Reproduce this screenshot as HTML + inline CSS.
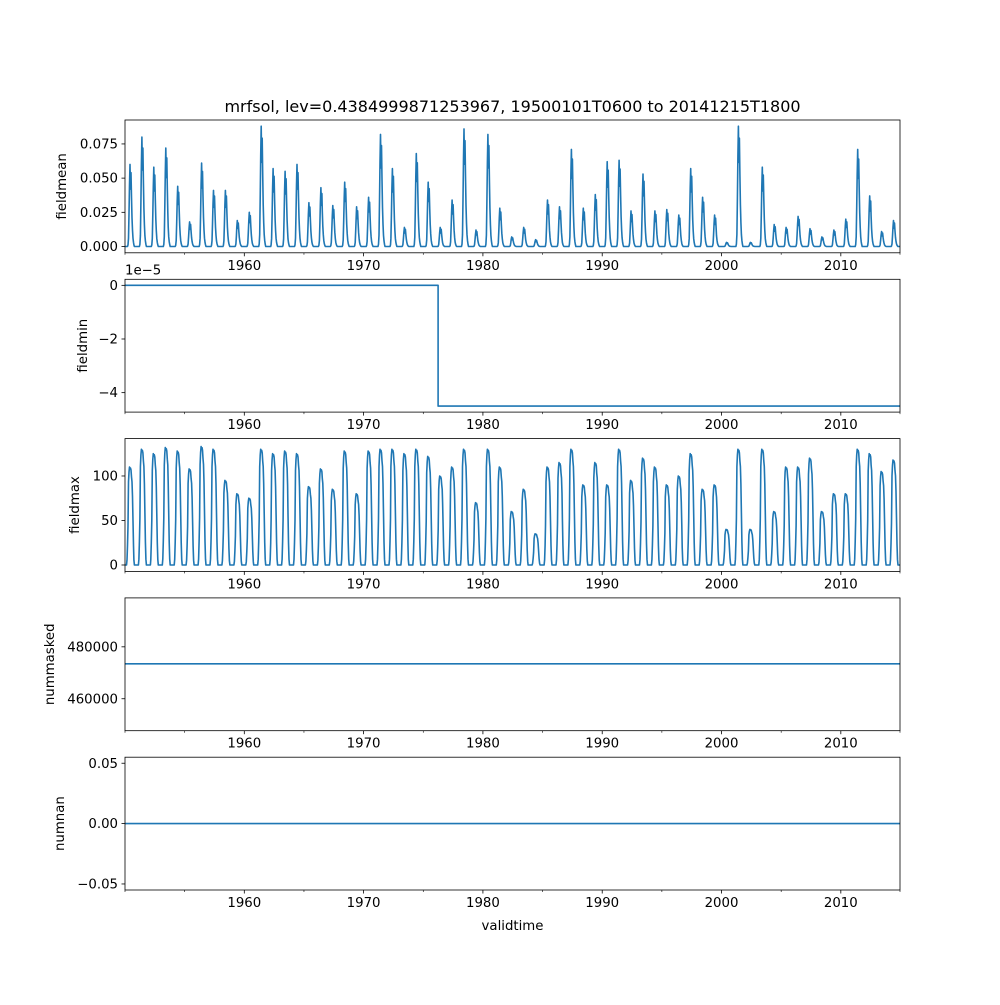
<!DOCTYPE html>
<html><head><meta charset="utf-8"><style>
body{margin:0;background:#fff}
svg text{font-family:"DejaVu Sans","Liberation Sans",sans-serif;fill:#000}
</style></head><body>
<svg id="fig" width="1000" height="1000" viewBox="0 0 1000 1000" xmlns="http://www.w3.org/2000/svg">
<rect width="1000" height="1000" fill="#fff"/>
<text x="512.5" y="112" font-size="16" text-anchor="middle">mrfsol, lev=0.4384999871253967, 19500101T0600 to 20141215T1800</text>
<text x="512.5" y="930" font-size="13.3" text-anchor="middle">validtime</text>
</svg>
<script>
const years = [];for(let y=1950;y<=2014;y++)years.push(y);
const meanPeaks=[0.060,0.080,0.058,0.072,0.044,0.018,0.061,0.041,0.041,0.019,0.025,0.088,0.057,0.055,0.060,0.032,0.043,0.030,0.047,0.029,0.036,0.082,0.057,0.014,0.068,0.047,0.014,0.034,0.086,0.012,0.082,0.028,0.007,0.014,0.005,0.034,0.029,0.071,0.028,0.038,0.062,0.063,0.026,0.053,0.026,0.027,0.023,0.057,0.036,0.023,0.003,0.088,0.003,0.058,0.016,0.014,0.022,0.013,0.007,0.012,0.020,0.071,0.037,0.011,0.019];
const maxPeaks=[110,130,125,132,128,108,133,130,95,80,75,130,125,128,125,88,108,85,128,80,128,130,130,125,130,122,100,110,130,70,130,110,60,85,35,110,115,130,90,115,90,130,95,120,110,90,100,125,85,90,40,130,40,130,60,110,110,120,60,80,80,130,125,105,118];
const meanShape=[0,0,0,0,0,0,0.02,0.1,0.4,0.75,1,0.7,0.9,0.6,0.35,0.2,0.1,0.05,0.02,0,0,0,0,0];
const maxShape=[0,0,0,0,0.05,0.2,0.4,0.85,0.95,1,0.98,0.99,0.97,0.9,0.85,0.7,0.45,0.2,0.05,0,0,0,0,0];
const minStepYear=1976.24, minBefore=0, minAfter=-4.5;
const nummaskedValue=473460, numnanValue=0;
const xTicks=[1960,1970,1980,1990,2000,2010];
const xMinor=[1955,1965,1975,1985,1995,2005];

const svg=document.getElementById('fig');
const NS='http://www.w3.org/2000/svg';
const L=125,R=900,X0=1950,X1=2014.96;
const xs=v=>L+(v-X0)/(X1-X0)*(R-L);
function el(t,a,p){const e=document.createElementNS(NS,t);for(const k in a)e.setAttribute(k,a[k]);(p||svg).appendChild(e);return e;}
function series(pk,shape){const t=[],v=[];years.forEach((y,i)=>{shape.forEach((s,j)=>{t.push(y+j/shape.length);v.push(pk[i]*s);});});return [t,v];}
const panels=[
 {name:'fieldmean',top:120,lo:-0.0046,hi:0.0925,ticks:[0,0.025,0.05,0.075],fmt:v=>v.toFixed(3),data:series(meanPeaks,meanShape)},
 {name:'fieldmin',top:279.3,lo:-4.725,hi:0.225,ticks:[0,-2,-4],fmt:v=>v===0?'0':'\u2212'+Math.abs(v),data:[[X0,minStepYear,minStepYear,X1],[minBefore,minBefore,minAfter,minAfter]],exp:true},
 {name:'fieldmax',top:438.6,lo:-7.2,hi:142,ticks:[0,50,100],fmt:v=>String(v),data:series(maxPeaks,maxShape)},
 {name:'nummasked',top:597.9,lo:447690,hi:498846,ticks:[460000,480000],fmt:v=>String(v),data:[[X0,X1],[nummaskedValue,nummaskedValue]]},
 {name:'numnan',top:757.2,lo:-0.055,hi:0.055,ticks:[-0.05,0,0.05],fmt:v=>(v<0?'\u2212':'')+Math.abs(v).toFixed(2),data:[[X0,X1],[numnanValue,numnanValue]]}
];
const H=132.8;
panels.forEach(p=>{
 const g=el('g',{});
 
 
 const B=p.top+H;const ys=v=>B-(v-p.lo)/(p.hi-p.lo)*H;
 let d='';p.data[0].forEach((t,i)=>{d+=(i?'L':'M')+xs(t).toFixed(1)+' '+ys(p.data[1][i]).toFixed(1);});
 const ln=el('path',{d:d,fill:'none',stroke:'#1f77b4','stroke-width':1.6,'stroke-linejoin':'round'},g);
 
 
 const fr=el('rect',{x:L,y:p.top,width:R-L,height:H,fill:'none',stroke:'#000','stroke-width':0.8},g);
 
 
 p.ticks.forEach(v=>{const y=ys(v);el('line',{x1:L-3.5,x2:L,y1:y,y2:y,stroke:'#000','stroke-width':0.8},g);
  const tx=el('text',{x:L-7,y:y+4.6,'font-size':13.3,'text-anchor':'end'},g);tx.textContent=p.fmt(v);
  
  });
 xTicks.forEach(v=>{const x=xs(v);el('line',{x1:x,x2:x,y1:B,y2:B+3.5,stroke:'#000','stroke-width':0.8},g);
  const tx=el('text',{x:x,y:B+17,'font-size':13.3,'text-anchor':'middle'},g);tx.textContent=String(v);
  
  });
 xMinor.concat([X0,X1]).forEach(v=>{const x=xs(v);el('line',{x1:x,x2:x,y1:B,y2:B+2,stroke:'#000','stroke-width':0.6},g);});
 const yl=el('text',{x:0,y:0,'font-size':13.3,'text-anchor':'middle',transform:`translate(${p.name==='nummasked'?54:p.name==='fieldmean'?66:p.name==='fieldmax'?79:p.name==='fieldmin'?87:64},${p.top+H/2}) rotate(-90)`},g);
 yl.textContent=p.name;
 
 
 if(p.exp){const e=el('text',{x:L,y:p.top-5,'font-size':13.3},g);e.textContent='1e\u22125';
  
  }
});
</script>
</body></html>
